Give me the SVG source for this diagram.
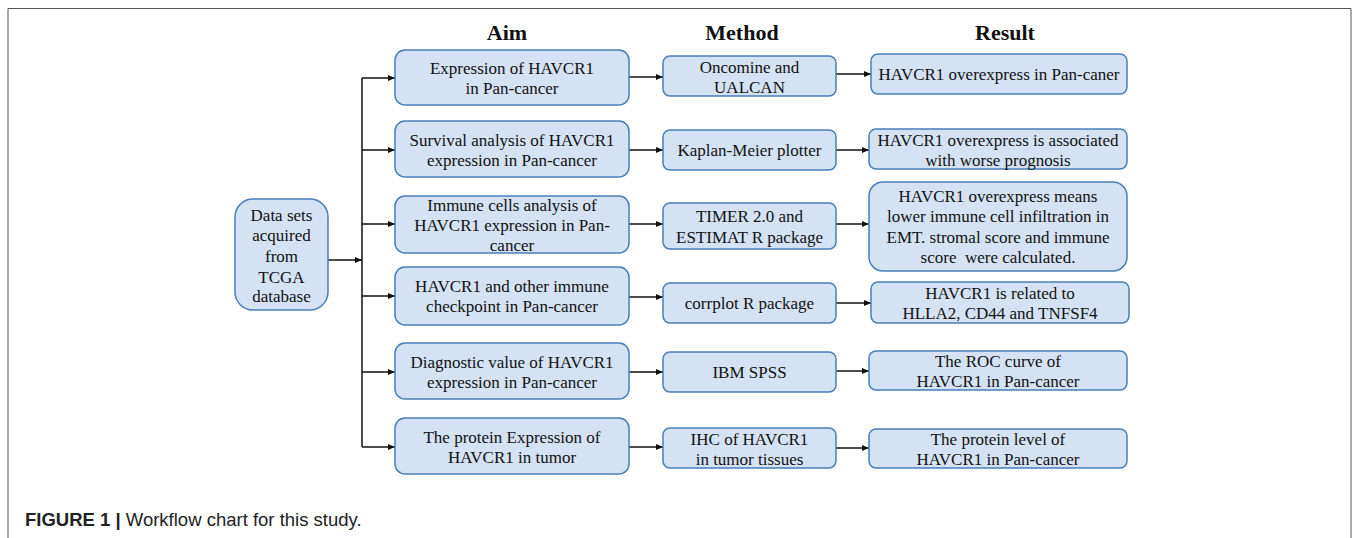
<svg xmlns="http://www.w3.org/2000/svg" width="1355" height="538" viewBox="0 0 1355 538">
<style>
.box{fill:#d5e2f3;stroke:#4a7dbb;stroke-width:1.5}
.t{font-family:"Liberation Serif","Times New Roman",serif;font-size:17px;fill:#111;text-anchor:middle}
.h{font-family:"Liberation Serif","Times New Roman",serif;font-size:22px;font-weight:bold;fill:#111;text-anchor:middle}
.c{stroke:#111;stroke-width:1.5;fill:none}
.cap{font-family:"Liberation Sans",Arial,sans-serif;font-size:18.5px;fill:#222}
</style>
<defs>
<marker id="ah" markerUnits="userSpaceOnUse" markerWidth="7" markerHeight="6" refX="7" refY="3" orient="auto">
<path d="M0,0 L7,3 L0,6 z" fill="#111"/>
</marker>
</defs>
<rect width="1355" height="538" fill="#fff"/>
<path d="M8,538 V8.5 H1351 V538" fill="none" stroke="#555" stroke-width="1"/>
<g id="headers">
<text class="h" x="507" y="40">Aim</text>
<text class="h" x="742" y="40">Method</text>
<text class="h" x="1005" y="40">Result</text>
</g>
<g id="connectors">
<line class="c" x1="328" y1="260" x2="362" y2="260" marker-end="url(#ah)"/>
<line class="c" x1="362" y1="78" x2="362" y2="447"/>
<line class="c" x1="362" y1="78" x2="395" y2="78" marker-end="url(#ah)"/>
<line class="c" x1="362" y1="150" x2="395" y2="150" marker-end="url(#ah)"/>
<line class="c" x1="362" y1="224" x2="395" y2="224" marker-end="url(#ah)"/>
<line class="c" x1="362" y1="296" x2="395" y2="296" marker-end="url(#ah)"/>
<line class="c" x1="362" y1="372" x2="395" y2="372" marker-end="url(#ah)"/>
<line class="c" x1="362" y1="447" x2="395" y2="447" marker-end="url(#ah)"/>
<line class="c" x1="629" y1="77" x2="663" y2="77" marker-end="url(#ah)"/>
<line class="c" x1="629" y1="150" x2="663" y2="150" marker-end="url(#ah)"/>
<line class="c" x1="629" y1="224" x2="663" y2="224" marker-end="url(#ah)"/>
<line class="c" x1="629" y1="297" x2="663" y2="297" marker-end="url(#ah)"/>
<line class="c" x1="629" y1="372" x2="663" y2="372" marker-end="url(#ah)"/>
<line class="c" x1="629" y1="447" x2="663" y2="447" marker-end="url(#ah)"/>
<line class="c" x1="836" y1="74" x2="871" y2="74" marker-end="url(#ah)"/>
<line class="c" x1="836" y1="150" x2="869" y2="150" marker-end="url(#ah)"/>
<line class="c" x1="836" y1="224" x2="869" y2="224" marker-end="url(#ah)"/>
<line class="c" x1="836" y1="303" x2="871" y2="303" marker-end="url(#ah)"/>
<line class="c" x1="836" y1="371" x2="869" y2="371" marker-end="url(#ah)"/>
<line class="c" x1="836" y1="448" x2="869" y2="448" marker-end="url(#ah)"/>
</g>
<g id="data">
<rect class="box" x="235" y="199" width="93" height="111" rx="18"/>
<text class="t" x="281.5" y="221">Data sets</text>
<text class="t" x="281.5" y="241">acquired</text>
<text class="t" x="281.5" y="262">from</text>
<text class="t" x="281.5" y="283">TCGA</text>
<text class="t" x="281.5" y="302">database</text>
</g>
<g id="aim1">
<rect class="box" x="395" y="50" width="234" height="55" rx="10"/>
<text class="t" x="512" y="74">Expression of HAVCR1</text>
<text class="t" x="512" y="94">in Pan-cancer</text>
</g>
<g id="aim2">
<rect class="box" x="395" y="121" width="234" height="56" rx="10"/>
<text class="t" x="512" y="146">Survival analysis of HAVCR1</text>
<text class="t" x="512" y="166">expression in Pan-cancer</text>
</g>
<g id="aim3">
<rect class="box" x="395" y="196" width="234" height="57" rx="10"/>
<text class="t" x="512" y="211">Immune cells analysis of</text>
<text class="t" x="512" y="231">HAVCR1 expression in Pan-</text>
<text class="t" x="512" y="251">cancer</text>
</g>
<g id="aim4">
<rect class="box" x="395" y="267" width="234" height="58" rx="10"/>
<text class="t" x="512" y="292">HAVCR1 and other immune</text>
<text class="t" x="512" y="312">checkpoint in Pan-cancer</text>
</g>
<g id="aim5">
<rect class="box" x="395" y="343" width="234" height="56" rx="10"/>
<text class="t" x="512" y="368">Diagnostic value of HAVCR1</text>
<text class="t" x="512" y="388">expression in Pan-cancer</text>
</g>
<g id="aim6">
<rect class="box" x="395" y="418" width="234" height="56" rx="10"/>
<text class="t" x="512" y="443">The protein Expression of</text>
<text class="t" x="512" y="463">HAVCR1 in tumor</text>
</g>
<g id="m1">
<rect class="box" x="663" y="56" width="173" height="40" rx="7"/>
<text class="t" x="749.5" y="73">Oncomine and</text>
<text class="t" x="749.5" y="93">UALCAN</text>
</g>
<g id="m2">
<rect class="box" x="663" y="130" width="173" height="40" rx="7"/>
<text class="t" x="749.5" y="156">Kaplan-Meier plotter</text>
</g>
<g id="m3">
<rect class="box" x="663" y="203" width="173" height="46" rx="7"/>
<text class="t" x="749.5" y="222">TIMER 2.0 and</text>
<text class="t" x="749.5" y="243">ESTIMAT R package</text>
</g>
<g id="m4">
<rect class="box" x="663" y="283" width="173" height="40" rx="7"/>
<text class="t" x="749.5" y="309">corrplot R package</text>
</g>
<g id="m5">
<rect class="box" x="663" y="352" width="173" height="40" rx="7"/>
<text class="t" x="749.5" y="378">IBM SPSS</text>
</g>
<g id="m6">
<rect class="box" x="663" y="428" width="173" height="40" rx="7"/>
<text class="t" x="749.5" y="445">IHC of HAVCR1</text>
<text class="t" x="749.5" y="465">in tumor tissues</text>
</g>
<g id="r1">
<rect class="box" x="871" y="54" width="256" height="40" rx="7"/>
<text class="t" x="999" y="80">HAVCR1 overexpress in Pan-caner</text>
</g>
<g id="r2">
<rect class="box" x="869" y="129" width="258" height="40" rx="7"/>
<text class="t" x="998" y="146">HAVCR1 overexpress is associated</text>
<text class="t" x="998" y="166">with worse prognosis</text>
</g>
<g id="r3">
<rect class="box" x="869" y="182" width="258" height="89" rx="14"/>
<text class="t" x="998" y="202">HAVCR1 overexpress means</text>
<text class="t" x="998" y="222">lower immune cell infiltration in</text>
<text class="t" x="998" y="243">EMT. stromal score and immune</text>
<text class="t" x="998" y="263" xml:space="preserve">score  were calculated.</text>
</g>
<g id="r4">
<rect class="box" x="871" y="282" width="258" height="41" rx="7"/>
<text class="t" x="1000" y="299">HAVCR1 is related to</text>
<text class="t" x="1000" y="319">HLLA2, CD44 and TNFSF4</text>
</g>
<g id="r5">
<rect class="box" x="869" y="351" width="258" height="39" rx="7"/>
<text class="t" x="998" y="367">The ROC curve of</text>
<text class="t" x="998" y="387">HAVCR1 in Pan-cancer</text>
</g>
<g id="r6">
<rect class="box" x="869" y="429" width="258" height="39" rx="7"/>
<text class="t" x="998" y="445">The protein level of</text>
<text class="t" x="998" y="465">HAVCR1 in Pan-cancer</text>
</g>
<g id="caption">
<text class="cap" x="25" y="526"><tspan font-weight="bold">FIGURE 1 |</tspan> Workflow chart for this study.</text>
</g>
</svg>
